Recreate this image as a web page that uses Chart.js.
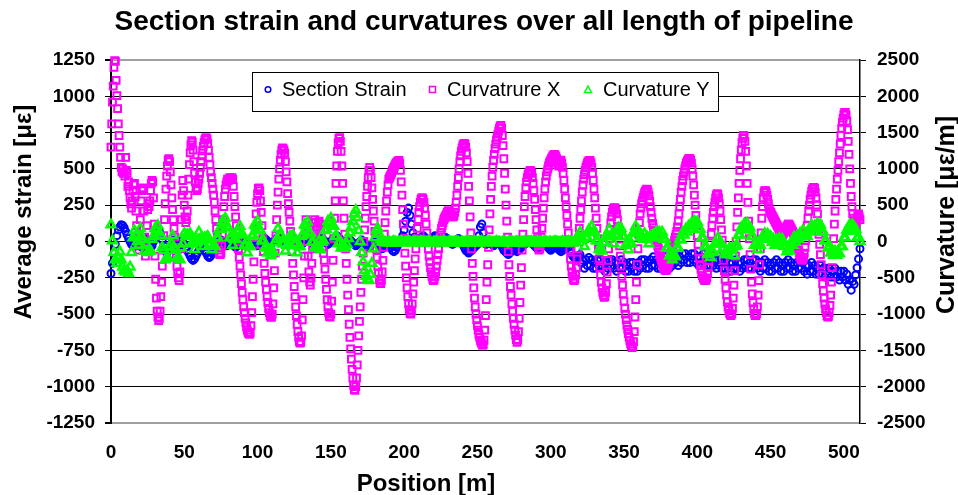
<!DOCTYPE html>
<html><head><meta charset="utf-8">
<script src="https://cdn.jsdelivr.net/npm/chart.js@4.4.0/dist/chart.umd.min.js"></script>
<style>html,body{margin:0;padding:0;background:#fff;}#wrap{width:958px;height:495px;}</style>
</head><body><div id="wrap"><canvas id="c" width="958" height="495"></canvas></div>
<script>
const TITLE = 'Section strain and curvatures over all length of pipeline';
const X_TITLE = 'Position [m]';
const Y_LEFT_TITLE = 'Average strain [με]';
const Y_RIGHT_TITLE = 'Curvature [με/m]';
const SERIES_NAMES = ['Section Strain', 'Curvatrure X', 'Curvature Y'];
const X_TICKS = [0, 50, 100, 150, 200, 250, 300, 350, 400, 450, 500];
const LEFT_TICKS = [-1250, -1000, -750, -500, -250, 0, 250, 500, 750, 1000, 1250];
const RIGHT_TICKS = [-2500, -2000, -1500, -1000, -500, 0, 500, 1000, 1500, 2000, 2500];
const X_MAX = 511;

// Section strain (left axis), one value per metre from 0 m
const STRAIN_STEP = 1;
const strainValues = [
-220,-150,-80,-20,40,80,100,115,110,95,
70,45,20,0,-20,-30,-10,20,30,10,
-20,-40,-30,0,20,10,-20,-40,-30,0,
30,60,80,70,40,10,-30,-60,-80,-60,
-40,-20,0,10,0,-20,-30,-10,10,0,
-20,-40,-60,-80,-100,-120,-130,-120,-100,-80,
-60,-40,-30,-40,-60,-80,-100,-110,-100,-80,
-60,-40,-20,-10,0,10,0,-10,-20,-30,
-20,-10,0,-10,-30,-40,-30,-20,-10,0,
10,0,-20,-30,-20,-10,0,-10,-20,-30,
-30,-20,-10,0,10,20,10,0,-10,-20,
-10,0,10,20,30,20,10,0,-10,-20,
-10,0,10,20,30,20,10,0,-10,-20,
-20,-10,0,10,20,10,0,-10,-20,-10,
0,10,20,30,20,10,0,-10,-20,-10,
0,10,20,30,40,30,20,10,0,-10,
-20,-10,0,10,0,-10,-20,-30,-20,-10,
0,10,0,-10,-20,-30,-40,-30,-20,-10,
0,-10,-20,-30,-40,-50,-40,-30,-20,-10,
-20,-40,-60,-70,-60,-40,-20,0,20,40,
80,140,200,230,180,120,60,30,10,0,
10,20,30,40,30,20,10,0,10,20,
30,40,30,20,10,0,10,20,30,20,
10,0,-10,-20,-10,0,10,20,10,0,
-20,-40,-60,-70,-80,-70,-60,-50,-40,-30,
-20,40,100,120,60,0,-20,-10,0,-10,
-20,-30,-20,-10,0,-10,-20,-40,-60,-70,
-80,-90,-80,-70,-60,-50,-60,-70,-60,-50,
-40,-30,-20,-10,0,10,0,-10,-20,-30,
-40,-50,-40,-30,-20,-10,-20,-30,-40,-50,
-60,-50,-40,-30,-40,-50,-60,-70,-60,-50,
-40,-30,-40,-60,-80,-100,-110,-120,-110,-100,
-90,-150,-130,-185,-125,-165,-110,-165,-125,-185,
-145,-185,-130,-165,-125,-185,-145,-205,-145,-185,
-125,-165,-125,-185,-145,-205,-145,-185,-125,-185,
-145,-205,-165,-205,-145,-185,-145,-205,-165,-205,
-145,-185,-125,-165,-125,-185,-145,-185,-125,-165,
-105,-165,-125,-185,-145,-185,-125,-165,-105,-165,
-125,-185,-125,-165,-105,-145,-105,-165,-105,-145,
-85,-125,-85,-145,-105,-145,-85,-125,-85,-145,
-105,-165,-105,-145,-85,-145,-105,-165,-125,-165,
-105,-165,-125,-185,-125,-165,-125,-185,-145,-185,
-125,-185,-145,-205,-145,-185,-125,-185,-145,-205,
-145,-185,-125,-165,-125,-185,-145,-185,-125,-165,
-125,-185,-145,-205,-145,-185,-125,-185,-145,-205,
-165,-205,-145,-185,-125,-185,-145,-205,-165,-205,
-145,-185,-125,-185,-145,-205,-165,-205,-145,-185,
-125,-185,-145,-205,-165,-225,-165,-205,-145,-205,
-165,-225,-185,-225,-165,-225,-185,-245,-185,-225,
-185,-245,-205,-245,-185,-245,-205,-265,-205,-245,
-205,-265,-225,-295,-265,-335,-275,-295,-230,-180,-120,-50
];

// Curvature X (right axis), one value per half metre from 0 m
const CURVX_STEP = 0.5;
const curvXValues = [
1300,1620,1920,2140,2400,2490,2480,2220,2010,1830,1620,1460,1300,1160,1020,960,1000,940,960,900,
1160,980,940,760,820,700,600,520,460,560,700,780,800,620,420,220,60,-60,-120,40,
300,560,700,740,720,420,60,-200,-80,220,440,520,480,560,700,800,840,820,600,240,
-200,-520,-780,-960,-1040,-1090,-1060,-960,-760,-560,-340,-120,80,300,520,720,900,1040,1120,1140,
1100,960,780,600,440,300,180,60,-80,-220,-340,-440,-500,-540,-420,-100,300,640,840,700,
500,340,260,300,420,640,860,1060,1220,1330,1390,1370,1260,1100,940,820,740,700,720,800,
860,940,1020,1100,1180,1250,1310,1360,1400,1420,1430,1410,1350,1260,1160,1060,960,880,800,720,
640,540,420,300,180,60,-40,-120,-170,-180,-160,-60,100,300,480,620,720,780,820,860,
840,860,880,870,860,880,860,760,620,480,340,220,120,20,-100,-220,-340,-460,-580,-700,
-800,-900,-980,-1060,-1120,-1180,-1220,-1250,-1270,-1280,-1260,-1160,-980,-760,-520,-280,-40,180,380,540,
660,730,740,700,560,400,220,40,-140,-300,-440,-560,-660,-760,-840,-920,-980,-1020,-1040,-1040,
-1000,-860,-640,-400,-160,80,300,500,680,860,1000,1120,1200,1260,1290,1280,1260,1220,1100,960,
820,660,520,400,280,140,0,-140,-300,-460,-620,-760,-900,-1020,-1140,-1240,-1320,-1380,-1400,-1390,
-1300,-1080,-800,-500,-200,100,300,200,0,-200,-420,-560,-600,-500,-300,-100,100,260,300,260,
200,160,200,260,280,240,160,80,0,-80,-160,-260,-380,-520,-660,-800,-900,-980,-1030,-1040,
-1000,-820,-560,-260,40,320,560,800,1040,1240,1360,1420,1430,1380,1240,1040,800,560,320,100,
-100,-300,-520,-740,-940,-1140,-1320,-1480,-1620,-1760,-1880,-1980,-2040,-2050,-2000,-1880,-1700,-1500,-1300,-1100,
-900,-700,-520,-340,-160,0,160,320,480,620,760,880,980,1020,980,880,740,580,420,280,
140,20,-100,-220,-340,-440,-520,-570,-580,-540,-420,-260,-80,100,260,420,560,680,780,860,
880,900,920,950,980,1000,1020,1040,1060,1080,1090,1100,1110,1116,1080,980,820,640,440,240,
40,-160,-340,-500,-640,-760,-860,-940,-990,-1000,-960,-860,-720,-560,-400,-240,-100,40,180,300,
400,480,540,580,600,600,580,540,460,360,240,120,0,-100,-200,-280,-360,-420,-480,-520,
-540,-520,-480,-420,-340,-260,-180,-100,-20,60,120,180,220,260,300,320,340,360,380,400,
420,420,410,400,380,360,340,340,360,400,460,540,640,760,880,1000,1100,1180,1240,1290,
1320,1340,1350,1340,1300,1220,1100,940,760,560,340,120,-100,-300,-480,-640,-780,-900,-1000,-1080,
-1160,-1220,-1280,-1320,-1360,-1390,-1410,-1430,-1420,-1360,-1220,-1020,-800,-560,-320,-80,160,380,580,760,
900,1020,1120,1200,1280,1340,1400,1440,1480,1520,1560,1590,1600,1560,1460,1320,1140,940,720,500,
280,60,-140,-320,-480,-620,-740,-860,-960,-1060,-1140,-1220,-1290,-1350,-1390,-1360,-1240,-1060,-840,-600,
-360,-120,100,300,480,620,740,820,880,920,940,960,980,970,940,880,800,700,580,440,
300,160,40,-60,-120,-100,-40,60,180,320,460,600,720,820,900,960,1000,1040,1080,1100,
1120,1140,1160,1180,1190,1200,1190,1170,1140,1100,1060,1040,1060,1100,1120,1080,1020,940,840,720,
600,480,360,240,120,0,-120,-240,-340,-420,-480,-520,-540,-520,-460,-360,-240,-100,40,180,
320,440,560,680,780,860,920,980,1020,1050,1080,1100,1110,1116,1110,1080,1020,940,840,720,
600,460,320,180,40,-100,-240,-360,-460,-560,-640,-700,-740,-770,-760,-700,-580,-420,-260,-100,
40,160,260,340,400,440,460,468,460,430,380,300,200,80,-60,-200,-340,-480,-600,-720,
-820,-920,-1000,-1080,-1150,-1210,-1270,-1320,-1370,-1410,-1440,-1460,-1450,-1380,-1240,-1040,-800,-560,-320,-100,
100,260,380,460,520,560,600,640,670,690,710,720,710,680,630,560,480,400,320,250,
190,140,100,60,20,-20,-60,-100,-140,-180,-220,-260,-300,-330,-360,-380,-390,-400,-390,-370,
-340,-300,-260,-220,-180,-140,-100,-60,-20,20,60,100,140,200,280,380,480,580,680,760,
840,900,960,1000,1040,1080,1100,1120,1136,1144,1140,1120,1080,1000,900,780,640,500,360,220,
80,-40,-140,-240,-320,-380,-430,-470,-500,-520,-536,-540,-530,-500,-440,-360,-260,-140,-20,100,
220,320,400,480,540,600,640,660,650,600,520,420,300,160,20,-120,-260,-400,-520,-640,
-740,-830,-900,-950,-990,-1010,-1020,-1000,-920,-780,-600,-400,-200,0,200,400,600,800,980,1140,
1260,1360,1420,1460,1450,1380,1240,1040,800,540,280,40,-180,-380,-560,-720,-840,-930,-990,-1020,
-1020,-990,-900,-740,-540,-320,-100,120,320,480,600,680,700,700,680,640,580,520,460,420,
400,380,360,340,320,300,280,260,240,220,200,180,160,140,120,100,80,100,120,140,
160,180,200,220,240,240,220,200,180,160,140,120,100,80,40,0,-40,-80,-120,-160,
-200,-230,-250,-260,-250,-220,-160,-80,20,120,220,320,420,500,580,640,690,720,740,744,
730,680,600,500,380,240,100,-40,-180,-320,-460,-580,-680,-780,-860,-930,-980,-1020,-1040,-1030,
-980,-880,-740,-560,-360,-160,40,240,420,580,720,860,980,1100,1220,1340,1460,1560,1640,1700,
1750,1780,1780,1740,1660,1540,1380,1200,1000,800,620,480,380,320,280,260,240,280,320,360,
380,340,300
];

// Curvature Y (right axis), one value per metre from 0 m
const CURVY_STEP = 1;
const curvYValues = [
230,10,-150,-250,-300,-220,-140,-250,-350,-400,
-420,-400,-440,-350,-150,50,150,80,0,-50,
180,70,30,-130,-30,-150,-130,-130,30,70,
180,150,220,120,80,-80,-120,-250,-230,-230,
-70,-30,80,-80,-120,-230,-230,-250,-90,-30,
110,70,90,80,110,-30,-20,-110,-10,0,
130,30,30,-70,50,50,70,-50,-30,-113,
-50,-70,50,50,170,170,280,250,320,210,
190,50,50,-50,30,30,150,140,210,110,
90,-50,-50,-154,-70,-70,70,90,230,210,
280,170,150,10,10,-90,-70,-160,-120,-195,
-130,-150,-10,30,180,90,90,-30,-30,-130,
-50,-50,70,50,90,-30,-30,-154,-70,-70,
70,90,230,220,270,130,110,-10,-10,-90,
-53,-90,10,-113,-10,10,150,170,280,250,
320,230,210,70,70,-30,-10,-90,-50,-90,
-83,-40,40,120,200,280,380,430,330,150,
0,-150,-280,-400,-480,-520,-537,-450,-300,-100,
50,150,180,100,30,0,-10,-10,-20,-10,
-10,-20,-10,0,-10,-20,-10,-10,0,-10,
-20,-10,-10,0,-10,-20,-10,0,-10,-10,
-20,-10,0,-10,-10,-20,-10,0,-10,-20,
-10,-10,0,-10,-20,-10,-10,0,-10,-20,
-10,0,-10,-20,-10,-10,0,-10,-20,-10,
-10,-20,-10,0,-10,-10,-20,-10,0,-10,
-20,-10,-10,0,-10,-20,-10,-10,0,-10,
-10,-20,-10,0,-10,-10,-20,-10,0,-10,
-20,-10,0,-10,-10,-20,-10,0,-10,-20,
-10,-10,0,-10,-20,-10,-10,0,-10,-20,
-10,0,-10,-20,-10,-10,0,-10,-20,-10,
-10,-20,-10,0,-10,-10,-20,-10,0,-10,
-20,-10,0,-10,-10,-20,-10,0,30,60,
130,30,30,-70,50,50,160,130,210,120,
130,10,10,-110,-94,-130,-10,-16,90,70,
170,70,70,-30,90,90,190,150,180,70,
70,-50,-30,-113,-30,-30,110,120,210,130,
150,50,70,30,110,30,60,-30,70,50,
90,50,130,80,130,80,130,30,30,-90,
-90,-200,-170,-250,-180,-210,-90,-90,30,20,
120,90,170,130,210,170,250,210,280,230,
270,170,170,50,50,-70,-70,-180,-150,-220,
-140,-150,-30,-30,50,-30,-10,-110,-90,-180,
-135,-180,-90,-110,-90,-195,-70,-50,90,90,
190,160,240,190,250,170,190,70,70,-50,
-30,-110,-30,-50,50,30,110,50,100,30,
70,-10,30,-50,20,-30,40,-16,30,-70,
-50,-140,-94,-130,-30,-50,60,-10,70,30,
110,70,150,70,110,70,160,130,220,180,
210,170,245,190,230,130,130,10,10,-90,
-70,-160,-120,-190,-135,-190,-135,-170,-70,-70,
50,50,160,140,230,180,230,150,170,50,60,0
];

const FONT = '"Liberation Sans", Arial, Helvetica, sans-serif';
const toPoints = (vals, step) => vals.map((v, i) => ({ x: i * step, y: v }));

const decor = {
  id: 'decor',
  afterDraw(chart) {
    const ctx = chart.ctx;
    ctx.save();
    ctx.fillStyle = '#000';
    ctx.textAlign = 'center';
    ctx.textBaseline = 'alphabetic';
    ctx.font = 'bold 28px ' + FONT;
    ctx.fillText(TITLE, 484, 30);
    ctx.font = 'bold 24px ' + FONT;
    ctx.fillText(X_TITLE, 426, 491);
    ctx.save();
    ctx.translate(31, 212); ctx.rotate(-Math.PI / 2);
    ctx.fillText(Y_LEFT_TITLE, 0, 0);
    ctx.restore();
    ctx.save();
    ctx.translate(954, 215); ctx.rotate(-Math.PI / 2);
    ctx.font = 'bold 25px ' + FONT;
    ctx.fillText(Y_RIGHT_TITLE, 0, 0);
    ctx.restore();
    // legend
    ctx.fillStyle = '#fff';
    ctx.fillRect(252, 72, 466, 39);
    ctx.strokeStyle = '#000'; ctx.lineWidth = 1;
    ctx.strokeRect(252.5, 72.5, 466, 39);
    ctx.lineWidth = 1.5;
    const my = 89.5;
    ctx.strokeStyle = '#0000FF';
    ctx.beginPath(); ctx.arc(268, my, 2.8, 0, Math.PI * 2); ctx.stroke();
    ctx.strokeStyle = '#FF00FF';
    ctx.strokeRect(429.5, my - 3, 6, 6);
    ctx.strokeStyle = '#00FF00';
    ctx.beginPath(); ctx.moveTo(588, my - 3.5); ctx.lineTo(591.5, my + 3); ctx.lineTo(584.5, my + 3); ctx.closePath(); ctx.stroke();
    ctx.fillStyle = '#000';
    ctx.textAlign = 'left';
    ctx.font = '20px ' + FONT;
    ctx.fillText(SERIES_NAMES[0], 282, 96);
    ctx.fillText(SERIES_NAMES[1], 447, 96);
    ctx.fillText(SERIES_NAMES[2], 603, 96);
    ctx.restore();
  }
};

const tickFont = { family: FONT, size: 19, weight: 'bold' };
const setTicks = (arr) => (scale) => { scale.ticks = arr.map(v => ({ value: v })); };
const plain = (v) => String(v);

new Chart(document.getElementById('c'), {
  type: 'scatter',
  data: {
    datasets: [
      { label: SERIES_NAMES[0], data: toPoints(strainValues, STRAIN_STEP), yAxisID: 'y', order: 2,
        pointStyle: 'circle', pointRadius: 3.5, pointBorderWidth: 2, pointBorderColor: '#0000FF', pointBackgroundColor: 'rgba(0,0,0,0)', clip: false },
      { label: SERIES_NAMES[1], data: toPoints(curvXValues, CURVX_STEP), yAxisID: 'y1', order: 1,
        pointStyle: 'rect', pointRadius: 4.8, pointBorderWidth: 2, pointBorderColor: '#FF00FF', pointBackgroundColor: 'rgba(0,0,0,0)', clip: false },
      { label: SERIES_NAMES[2], data: toPoints(curvYValues, CURVY_STEP), yAxisID: 'y1', order: 0,
        pointStyle: 'triangle', pointRadius: 5, pointBorderWidth: 2.5, pointBorderColor: '#00FF00', pointBackgroundColor: 'rgba(0,0,0,0)', clip: false }
    ]
  },
  options: {
    responsive: false,
    animation: false,
    events: [],
    devicePixelRatio: 1,
    layout: { padding: { top: 60, left: 0, right: 0, bottom: 0 } },
    plugins: { legend: { display: false }, tooltip: { enabled: false }, title: { display: false } },
    scales: {
      x: {
        type: 'linear', min: 0, max: X_MAX,
        afterBuildTicks: setTicks(X_TICKS),
        afterFit: (s) => { s.height = 72; },
        grid: { display: false, drawTicks: false },
        border: { display: false },
        ticks: { font: tickFont, color: '#000', padding: 18, maxRotation: 0, callback: plain }
      },
      y: {
        position: 'left', min: -1250, max: 1250,
        afterBuildTicks: setTicks(LEFT_TICKS),
        afterFit: (s) => { s.width = 111; },
        grid: {
          color: (c) => (c.tick && Math.abs(c.tick.value) === 1250) ? '#a0a0a0' : '#000',
          lineWidth: (c) => (c.tick && Math.abs(c.tick.value) === 1250) ? 2 : 1,
          tickColor: '#000', tickLength: 6, drawTicks: true
        },
        border: { display: true, color: '#000', width: 2 },
        ticks: { font: tickFont, color: '#000', padding: 10, callback: plain }
      },
      y1: {
        position: 'right', min: -2500, max: 2500,
        afterBuildTicks: setTicks(RIGHT_TICKS),
        afterFit: (s) => { s.width = 98; },
        grid: { drawOnChartArea: false, color: '#000', tickColor: '#000', tickLength: 6 },
        border: { display: true, color: '#000', width: 1.5 },
        ticks: { font: tickFont, color: '#000', padding: 11, callback: plain }
      }
    }
  },
  plugins: [decor]
});
</script></body></html>
